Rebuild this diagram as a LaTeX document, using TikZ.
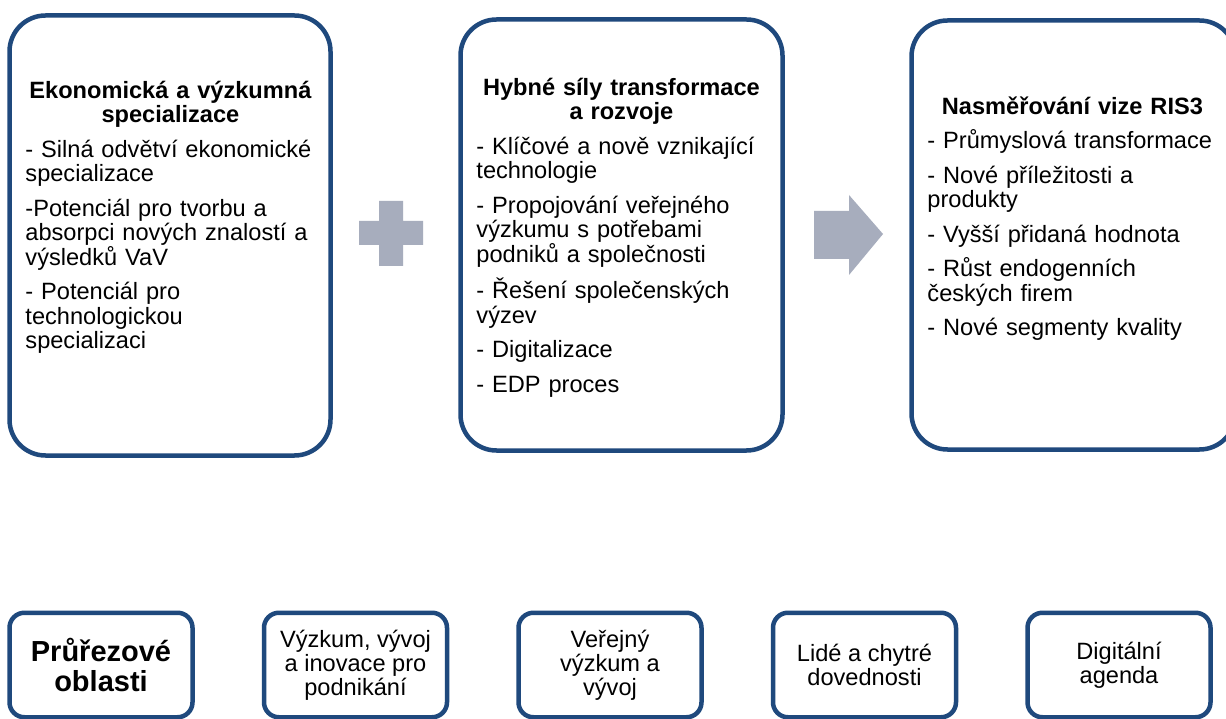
\documentclass[tikz,border=0pt]{standalone}
\usepackage{fontspec}
\setmainfont{Liberation Sans}
\usepackage{xcolor}
\definecolor{risblue}{RGB}{31,73,125}
\definecolor{risgray}{RGB}{167,173,189}
\usetikzlibrary{positioning}

\newcommand{\boxtitle}[1]{{\centering\bfseries\rule{0pt}{19pt}#1\par}}

\begin{document}
\begin{tikzpicture}[x=1pt, y=-1pt,
  bigbox/.style={rectangle, draw=risblue, line width=4.5pt, rounded corners=36pt,
                 fill=white},
  smallbox/.style={rectangle, draw=risblue, line width=4.5pt, rounded corners=15pt,
                   fill=white, minimum width=183pt, minimum height=104.5pt,
                   align=center, font=\fontsize{23.6}{24}\selectfont},
  boxtext/.style={anchor=north west, inner sep=0pt, text width=290pt, align=left,
                  font=\fontsize{23.6}{24.5}\selectfont,
                  execute at begin node={\setlength{\parskip}{10pt}}},
  shapefill/.style={fill=risgray, draw=none}
]
\useasboundingbox[fill=white] (0,0) rectangle (1226,719);

% Top boxes
\node[bigbox, minimum width=321pt, minimum height=440pt] (econ)   at (170,235.5) {};
\node[bigbox, minimum width=322pt, minimum height=431pt] (drive)  at (621.5,235) {};
\node[bigbox, minimum width=324pt, minimum height=429pt] (vision) at (1073.5,235) {};

\node[boxtext, below right=66pt and 18pt of econ.north west] (econtxt)
  {\boxtitle{Ekonomická a výzkumná\\specializace}
   - Silná odvětví ekonomické\\specializace\par
   -Potenciál pro tvorbu a\\absorpci nových znalostí a\\výsledků VaV\par
   - Potenciál pro\\technologickou\\specializaci};

\node[boxtext, below right=59pt and 18pt of drive.north west] (drivetxt)
  {\boxtitle{Hybné síly transformace\\a rozvoje}
   - Klíčové a nově vznikající\\technologie\par
   - Propojování veřejného\\výzkumu s potřebami\\podniků a společnosti\par
   - Řešení společenských\\výzev\par
   - Digitalizace\par
   - EDP proces};

\node[boxtext, below right=77pt and 18pt of vision.north west] (visiontxt)
  {\boxtitle{Nasměřování vize RIS3}
   - Průmyslová transformace\par
   - Nové příležitosti a\\produkty\par
   - Vyšší přidaná hodnota\par
   - Růst endogenních\\českých firem\par
   - Nové segmenty kvality};

% Plus and arrow
\fill[shapefill] (379,201) -- (403,201) -- (403,221) -- (423,221) -- (423,245)
  -- (403,245) -- (403,266) -- (379,266) -- (379,245) -- (359,245)
  -- (359,221) -- (379,221) -- cycle;
\fill[shapefill] (814,211) -- (849,211) -- (849,195) -- (883,234) -- (849,275)
  -- (849,259) -- (814,259) -- cycle;

% Bottom boxes
\node[smallbox, font=\fontsize{29}{30}\selectfont\bfseries] (cross) at (101,665)
  {Průřezové\\oblasti};
\node[smallbox] (rdi)     at (355.5,665) {Výzkum, vývoj\\a inovace pro\\podnikání};
\node[smallbox] (public)  at (610,665)   {Veřejný\\výzkum a\\vývoj};
\node[smallbox] (people)  at (864.5,665) {Lidé a chytré\\dovednosti};
\node[smallbox] (digital) at (1119,665)  {Digitální\\agenda};
\end{tikzpicture}
\end{document}
